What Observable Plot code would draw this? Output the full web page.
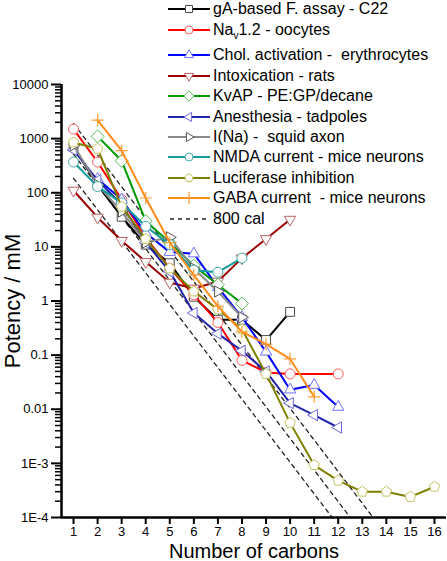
<!DOCTYPE html>
<html><head><meta charset="utf-8">
<script src="https://cdn.jsdelivr.net/npm/d3@7"></script>
<script src="https://cdn.jsdelivr.net/npm/@observablehq/plot@0.6"></script>
<style>
body{margin:0;background:#fff;font-family:"Liberation Sans",Arial,sans-serif;}
#wrap{position:relative;width:447px;height:561px;}
#legend{position:absolute;left:168px;top:-1px;font-size:16px;color:#000;}
.row{display:flex;align-items:center;height:20.4px;white-space:pre;}
.row svg{flex:none;margin-right:3px;}
sub{font-size:10px;line-height:0;}
</style></head><body><div id="wrap"><div id="legend"></div></div>
<script>
// ---- data (mM vs number of carbons) ----
const gA_C   = [1,2,3,4,5,6,7,8,9,10];
const gA_V   = [700,140,36,11,5,1.2,0.45,0.45,0.19,0.63];
const nav_C  = [1,2,3,4,5,6,7,8,9,10,12];
const nav_V  = [1500,370,75,15,4,1.3,0.4,0.08,0.048,0.045,0.045];
const chol_C = [2,3,4,5,6,7,8,9,10,11,12];
const chol_V = [180,75,18,8,7.5,1.8,0.5,0.115,0.023,0.028,0.011];
const rat_C  = [1,2,3,4,5,6,7,8,9,10];
const rat_V  = [110,35,13,5.3,2.2,1.7,2.3,6.2,14,32];
const kv_C   = [2,3,4,5,6,7,8];
const kv_V   = [1100,390,30,12,4.5,2,0.9];
const anes_C = [1,2,3,4,5,6,7,8,9,10,11,12];
const anes_V = [620,170,60,12,3.5,0.6,0.25,0.12,0.05,0.013,0.0078,0.0046];
const squid_C= [1,2,3,4,5,6,7,8];
const squid_V= [750,140,45,12,15,4,1.5,0.5];
const nmda_C = [1,2,3,4,5,6,7,8];
const nmda_V = [370,130,65,24,11,3.7,3.4,6.2];
const luc_C  = [1,2,3,4,5,6,7,8,9,10,11,12,13,14,15,16];
const luc_V  = [850,650,55,14,4,1.5,0.7,0.3,0.045,0.0056,0.00093,0.00048,0.0003,0.0003,0.00024,0.00037];
const gaba_C = [2,3,4,5,6,7,8,9,10,11];
const gaba_V = [2200,600,80,12,3,0.8,0.27,0.16,0.085,0.017];
// 800 cal reference lines: start (carbons, mM) and end (carbons, mM)
const cal_startC = [1,1,1];
const cal_startV = [185,520,1900];
const cal_endC   = [11.75,12.5,13.45];
const cal_endV   = [1e-4,1e-4,1e-4];

const seriesNames = ["gA-based F. assay - C22","Nav1.2 - oocytes","Chol. activation -  erythrocytes","Intoxication - rats","KvAP - PE:GP/decane","Anesthesia - tadpoles","I(Na) -  squid axon","NMDA current - mice neurons","Luciferase inhibition","GABA current  - mice neurons"];
const calName = "800 cal";

const yMajorTicks = [1e4,1e3,100,10,1,0.1,0.01,1e-3,1e-4];
const yTickLabels = ["10000","1000","100","10","1","0.1","0.01","1E-3","1E-4"];
const xTicks = [1,2,3,4,5,6,7,8,9,10,11,12,13,14,15,16];

// ---- symbols ----
function poly(n, rot, scale){
  return {draw(ctx, size){
    const r = Math.sqrt(size/Math.PI)*scale;
    for(let i=0;i<n;i++){
      const a = rot + i*2*Math.PI/n;
      const x = r*Math.cos(a), y = r*Math.sin(a);
      if(i===0) ctx.moveTo(x,y); else ctx.lineTo(x,y);
    }
    ctx.closePath();
  }};
}
const symUp = poly(3,-Math.PI/2,1.3), symDown = poly(3,Math.PI/2,1.3);
const symLeft = poly(3,Math.PI,1.3), symRight = poly(3,0,1.3);
const symPent = poly(5,-Math.PI/2,1.1), symDiamond = poly(4,-Math.PI/2,1.3);

const styles = [
  {C:gA_C, V:gA_V, line:"#000000", mark:"#4a4a4a", sym:"square"},
  {C:nav_C, V:nav_V, line:"#ff0000", mark:"#ff5f5f", sym:"circle"},
  {C:chol_C, V:chol_V, line:"#0000ff", mark:"#6f6fff", sym:symUp},
  {C:rat_C, V:rat_V, line:"#990000", mark:"#b86060", sym:symDown},
  {C:kv_C, V:kv_V, line:"#009900", mark:"#55b855", sym:symDiamond},
  {C:anes_C, V:anes_V, line:"#2222aa", mark:"#6a6ad6", sym:symLeft},
  {C:squid_C, V:squid_V, line:"#8a8a8a", mark:"#555555", sym:symRight},
  {C:nmda_C, V:nmda_V, line:"#149b9b", mark:"#44aaaa", sym:"circle"},
  {C:luc_C, V:luc_V, line:"#7f7f00", mark:"#c4c460", sym:symPent},
  {C:gaba_C, V:gaba_V, line:"#ff8c1a", mark:"#ff9a33", sym:"plus"}
];
const series = styles.map((s,i)=>({...s, name:seriesNames[i], rows:s.C.map((c,j)=>({c, v:s.V[j]}))}));
const calRows = cal_startC.flatMap((c,i)=>[{k:i,c,v:cal_startV[i]},{k:i,c:cal_endC[i],v:cal_endV[i]}]);

const yLab = new Map(yMajorTicks.map((d,i)=>[d,yTickLabels[i]]));
const yMinor = [];
for(let e=-4;e<4;e++) for(let m=2;m<=9;m++) yMinor.push(m*Math.pow(10,e));

const marks = [
  Plot.line(calRows, {x:"c", y:"v", z:"k", stroke:"#222", strokeWidth:1.3, strokeDasharray:"4,4"})
];
series.forEach(s=>{
  marks.push(Plot.line(s.rows, {x:"c", y:"v", stroke:s.line, strokeWidth:2}));
  if(s.sym==="plus"){
    marks.push(Plot.dot(s.rows, {x:"c", y:"v", symbol:"plus", r:4, stroke:s.mark, fill:"none", strokeWidth:1.2}));
  } else {
    marks.push(Plot.dot(s.rows, {x:"c", y:"v", symbol:s.sym, r:5, stroke:s.mark, fill:"white", strokeWidth:1}));
  }
});
marks.push(
  Plot.ruleX([0.5], {stroke:"#000", strokeWidth:2.5}),
  Plot.ruleY([1e-4], {stroke:"#000", strokeWidth:2.5}),
  Plot.axisY({ticks:yMinor, tickSize:6, tickFormat:()=>"", strokeWidth:1.5, label:null}),
  Plot.axisY({ticks:yMajorTicks, tickSize:10, tickPadding:3, tickFormat:d=>yLab.get(d), strokeWidth:2, fontSize:13, label:null}),
  Plot.axisX({ticks:xTicks, tickSize:7, tickPadding:2, tickFormat:d=>String(d), strokeWidth:2, fontSize:13, label:null}),
  Plot.axisY({ticks:[], label:"Potency / mM", labelAnchor:"center", labelArrow:"none", labelOffset:57, fontSize:22}),
  Plot.axisX({ticks:[], label:"Number of carbons", labelAnchor:"center", labelArrow:"none", labelOffset:40, fontSize:20, dx:-7})
);

const chart = Plot.plot({
  width:447, height:561,
  marginLeft:61, marginRight:1, marginTop:84, marginBottom:44,
  x:{domain:[0.5,16.5]},
  y:{type:"log", domain:[1e-4,1e4]},
  style:{fontFamily:"Liberation Sans, Arial, sans-serif", fontSize:"13px", color:"#000", background:"#fff"},
  marks
});
document.getElementById("wrap").prepend(chart);

// ---- legend ----
const leg = d3.select("#legend");
series.forEach((s,i)=>{
  const row = leg.append("div").attr("class","row");
  if(i===1) row.style("margin-bottom","5.5px");
  const svg = row.append("svg").attr("width",42).attr("height",14);
  svg.append("line").attr("x1",0).attr("x2",42).attr("y1",7).attr("y2",7).attr("stroke",s.line).attr("stroke-width",2);
  const sym = typeof s.sym === "string" ? ({square:d3.symbolSquare,circle:d3.symbolCircle,plus:d3.symbolPlus})[s.sym] : s.sym;
  svg.append("path").attr("transform","translate(21,7)").attr("d",d3.symbol(sym, 16*Math.PI)())
    .attr("fill", s.sym==="plus" ? "none" : "white").attr("stroke",s.mark).attr("stroke-width", s.sym==="plus"?1.2:1);
  const t = row.append("span");
  if(s.name.startsWith("Nav")){ t.html("Na<sub>v</sub>" + s.name.slice(3)); }
  else t.text(s.name);
});
{
  const row = leg.append("div").attr("class","row");
  const svg = row.append("svg").attr("width",42).attr("height",14);
  svg.append("line").attr("x1",2).attr("x2",42).attr("y1",7).attr("y2",7).attr("stroke","#222").attr("stroke-width",1.3).attr("stroke-dasharray","4,4");
  row.append("span").text(calName);
}
</script></body></html>
